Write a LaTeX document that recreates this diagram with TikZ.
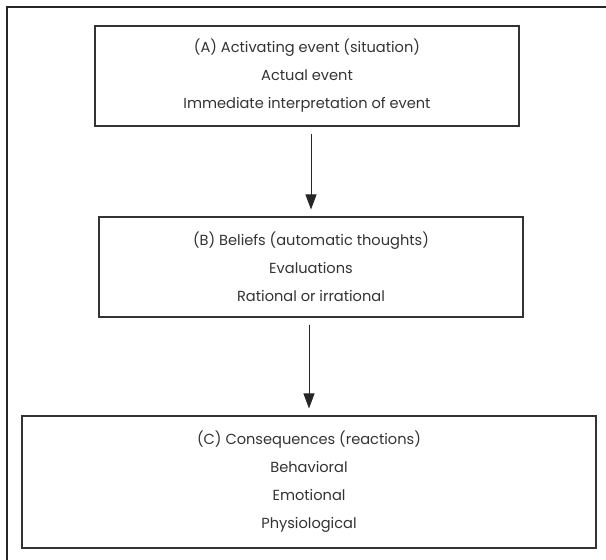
\documentclass[tikz,border=0pt]{standalone}
\usepackage{fontspec}
\setmainfont{Poppins}
\usetikzlibrary{arrows.meta}

\begin{document}
\begin{tikzpicture}[
  x=1pt, y=-1pt,
  stagebox/.style={draw=black!80, line width=1.1pt, align=center, inner sep=0pt,
    text=black!80, font=\fontsize{14.6}{28}\selectfont},
  flow/.style={draw=black!85, line width=1pt, shorten <=7pt, shorten >=7pt,
    -{Triangle[length=15pt, width=11pt]}}
]
\useasboundingbox (0,0) rectangle (606,560);
\draw[black!85, line width=1.2pt] (606,7) -- (7,7) -- (7,560);
\node[stagebox, minimum width=424pt, minimum height=100pt] (A) at (307,76)
  {(A) Activating event (situation)\\ Actual event\\ Immediate interpretation of event};
\node[stagebox, minimum width=424pt, minimum height=100pt] (B) at (311,267)
  {(B) Beliefs (automatic thoughts)\\ Evaluations\\ Rational or irrational};
\node[stagebox, minimum width=574pt, minimum height=132pt] (C) at (309,482)
  {(C) Consequences (reactions)\\ Behavioral\\ Emotional\\ Physiological};
\draw[flow] (A.south -| B.north) -- (B.north);
\draw[flow] (B.south -| C.north) -- (C.north);
\end{tikzpicture}
\end{document}
